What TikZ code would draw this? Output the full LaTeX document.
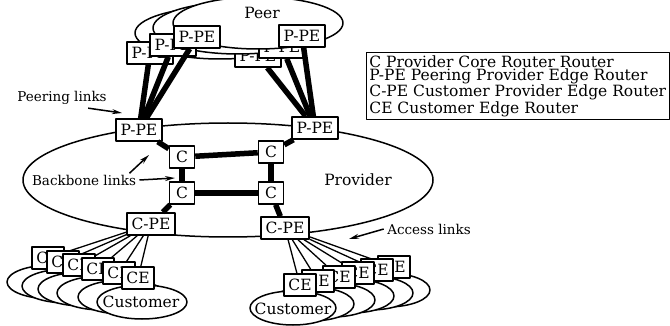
\documentclass[tikz,border=0pt]{standalone}
\usepackage{fontspec}
\setmainfont{DejaVu Serif}
\usetikzlibrary{arrows.meta,positioning,calc}

\begin{document}
\begin{tikzpicture}[x=1pt, y=-1pt, line join=round,
  font=\fontsize{15.5}{15}\selectfont,
  router/.style={draw, line width=1.5pt, fill=white, inner xsep=4.5pt, inner ysep=2pt, minimum height=22pt, minimum width=25pt},
  cloud/.style={draw, line width=1.5pt, fill=white},
  trunk/.style={line width=5.5pt},
  access/.style={line width=1.3pt},
  tag/.style={font=\fontsize{13.5}{14}\selectfont},
  callout/.style={line width=1.5pt, -{Stealth[length=10pt,width=5pt]}}]
\useasboundingbox (0,0) rectangle (670,326);

% provider network
\draw[cloud] (228,180) ellipse [x radius=205pt, y radius=57pt];
\node (provider) at (358,180) {Provider};

\node[router] (ppeL) at (139,130) {P-PE};
\node[router] (ppeR) at (315,128) {P-PE};
\node[router] (cTL)  at (182,157) {C};
\node[router] (cTR)  at (271,152) {C};
\node[router] (cBL)  at (182,193) {C};
\node[router] (cBR)  at (271,193) {C};
\node[router] (cpeL) at (151,224) {C-PE};
\node[router] (cpeR) at (285,228) {C-PE};

\draw[trunk] (ppeL)--(cTL)--(cTR)--(ppeR);
\draw[trunk] (cTL)--(cBL)--(cBR)--(cTR);
\draw[trunk] (cBL)--(cpeL) (cBR)--(cpeR);

% peers, back to front
\foreach \n/\ex/\ey/\lx/\ly/\rx/\ry in {1/220/33/150/53/258/56, 2/238/28/173/45/282/47, 3/258/23/197/37/302/36}{
  \draw[cloud] (\ex,\ey) ellipse [x radius=85pt, y radius=26pt];
  \node[router] (pbL\n) at (\lx,\ly) {P-PE};
  \node[router] (pbR\n) at (\rx,\ry) {P-PE};
  \draw[trunk] (pbL\n)--(ppeL) (pbR\n)--(ppeR);
}
\node (peer) at (262,13) {Peer};

% customers
\foreach \n/\bx/\by in {1/48/258, 2/63/262, 3/79/265, 4/98/269, 5/119/273, 6/138/278}{
  \draw[cloud] (\bx+4,\by+24) ellipse [x radius=45pt, y radius=17pt];
  \node[router] (ceL\n) at (\bx,\by) {CE};
  \draw[access] (cpeL)--(ceL\n);
}
\node (custL) at (141,302) {Customer};

\foreach \n/\bx/\by in {1/394/267, 2/377/270, 3/358/273, 4/339/277, 5/318/281, 6/300/285}{
  \draw[cloud] (\bx-7,\by+23) ellipse [x radius=43pt, y radius=17pt];
  \node[router] (ceR\n) at (\bx,\by) {CE};
  \draw[access] (cpeR)--(ceR\n);
}
\node (custR) at (293,309) {Customer};

% link labels
\node[tag] (peerlinks) at (62,98) {Peering links};
\coordinate (peertip) at (122,113);
\draw[callout] ($(peerlinks.south east)+(-22,0)$)--(peertip);

\node[tag] (backbone) at (84,180) {Backbone links};
\coordinate (bbtip1) at (149,155);
\coordinate (bbtip2) at (175,178);
\draw[callout] ($(backbone.north east)+(-10,2)$)--(bbtip1);
\draw[callout] (backbone.east)--(bbtip2);

\node[tag] (accesslinks) at (429,229) {Access links};
\coordinate (acctip) at (349,239);
\draw[callout] (accesslinks.west)--(acctip);

% legend
\node[draw, line width=0.8pt, align=left, anchor=north west, inner sep=3pt,
  font=\fontsize{15.5}{13.5}\selectfont] (legend) at (366,52)
  {C Provider Core Router Router\\
   P-PE Peering Provider Edge Router\\
   C-PE Customer Provider Edge Router\\
   CE Customer Edge Router};
\end{tikzpicture}
\end{document}
